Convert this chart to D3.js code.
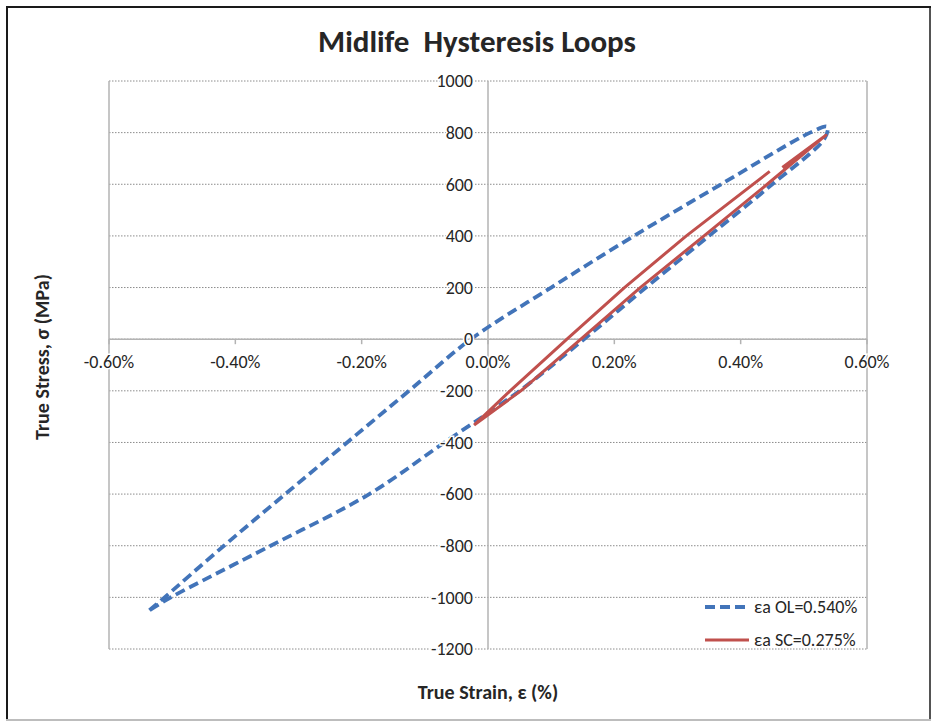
<!DOCTYPE html>
<html>
<head>
<meta charset="utf-8">
<script src="https://cdn.jsdelivr.net/npm/d3@7"></script>
<style>
    body { margin: 0; background: #fff; }
    text { font-family: Carlito, Calibri, Lato, "Open Sans", sans-serif; fill: #262626; }
    .tick-label { font-size: 18px; paint-order: stroke; stroke: #fff; stroke-width: 3px; }
    .grid { stroke: #8c8c8c; stroke-width: 1; stroke-dasharray: 1.5,1.5; }
    .axis-line { stroke: #b3b3b3; stroke-width: 1.5; }
    .axis-title { font-size: 20px; font-weight: bold; }
</style>
</head>
<body>
<svg id="chart"></svg>
<script>
// Tick values
const strainTicks = [-0.6, -0.4, -0.2, 0, 0.2, 0.4, 0.6];
const stressTicks = [-1200, -1000, -800, -600, -400, -200, 0, 200, 400, 600, 800, 1000];

// εa OL=0.540% loop (strain %, stress MPa)
const olStrain = [-0.536, -0.512, -0.418, -0.321, -0.223, -0.125, -0.027, 0.100, 0.231, 0.369, 0.510, 0.537,
    0.533, 0.450, 0.350, 0.250, 0.152, 0.050, -0.069, -0.188, -0.344, -0.502, -0.536];
const olStress = [-1050, -1000, -800, -600, -400, -200, 0, 200, 400, 600, 800, 823,
    778, 600, 400, 200, 0, -200, -400, -600, -800, -1000, -1050];

// εa SC=0.275% loop (null = break in the line)
const scStrain = [-0.022, 0.035, 0.125, 0.216, 0.314, 0.446, null, 0.466, 0.535,
    0.442, 0.342, 0.241, 0.147, 0.052, -0.022];
const scStress = [-333, -200, 0, 200, 400, 650, null, 665, 790,
    600, 400, 200, 0, -200, -333];

const W = 937, H = 722;
const margin = { top: 81, right: 70, bottom: 73, left: 109 };
const width = W - margin.left - margin.right;
const height = H - margin.top - margin.bottom;

const svg = d3.select("#chart").attr("width", W).attr("height", H);

// outer frame
svg.append("line").attr("x1", 7).attr("y1", 7).attr("x2", 7).attr("y2", 720)
    .attr("stroke", "#1a1a1a").attr("stroke-width", 2);
svg.append("line").attr("x1", 6).attr("y1", 7).attr("x2", 931).attr("y2", 7)
    .attr("stroke", "#1a1a1a").attr("stroke-width", 2);
svg.append("line").attr("x1", 930).attr("y1", 7).attr("x2", 930).attr("y2", 720)
    .attr("stroke", "#1a1a1a").attr("stroke-width", 1.5);
svg.append("line").attr("x1", 6).attr("y1", 720).attr("x2", 931).attr("y2", 720)
    .attr("stroke", "#bdbdbd").attr("stroke-width", 2);

const g = svg.append("g").attr("transform", `translate(${margin.left},${margin.top})`);

const x = d3.scaleLinear().domain([-0.6, 0.6]).range([0, width]);
const y = d3.scaleLinear().domain([-1200, 1000]).range([height, 0]);

// horizontal dotted gridlines
g.selectAll(".grid").data(stressTicks).join("line")
    .attr("class", "grid")
    .attr("x1", 0).attr("x2", width)
    .attr("y1", d => y(d)).attr("y2", d => y(d));

// plot side borders
g.append("line").attr("class", "axis-line").attr("x1", 0).attr("x2", 0).attr("y1", 0).attr("y2", height);
g.append("line").attr("class", "axis-line").attr("x1", width).attr("x2", width).attr("y1", 0).attr("y2", height);

// axes crossing at zero
g.append("line").attr("class", "axis-line")
    .attr("x1", x(0)).attr("x2", x(0)).attr("y1", 0).attr("y2", height);
g.append("line").attr("class", "axis-line")
    .attr("x1", 0).attr("x2", width).attr("y1", y(0)).attr("y2", y(0));

g.selectAll(".xtick").data(strainTicks).join("line")
    .attr("class", "axis-line xtick")
    .attr("x1", d => x(d)).attr("x2", d => x(d))
    .attr("y1", y(0)).attr("y2", y(0) + 5);

// series
const smoothLine = d3.line()
    .x(d => x(d[0]))
    .y(d => y(d[1]))
    .curve(d3.curveCatmullRom.alpha(0.5));

// the SC loop is two almost straight branches, keep it unsmoothed
const straightLine = d3.line()
    .defined(d => d[0] !== null)
    .x(d => x(d[0]))
    .y(d => y(d[1]));

g.append("path")
    .datum(d3.zip(olStrain, olStress))
    .attr("fill", "none")
    .attr("stroke", "#4274b9")
    .attr("stroke-width", 3.8)
    .attr("stroke-dasharray", "10,5")
    .attr("d", smoothLine);

g.append("path")
    .datum(d3.zip(scStrain, scStress))
    .attr("fill", "none")
    .attr("stroke", "#c0504d")
    .attr("stroke-width", 3)
    .attr("stroke-linejoin", "round")
    .attr("d", straightLine);

// tick labels (plain hyphen for negatives, as in the original)
g.selectAll(".xlabel").data(strainTicks).join("text")
    .attr("class", "tick-label xlabel")
    .attr("x", d => x(d))
    .attr("y", y(0) + 23)
    .attr("dy", "0.35em")
    .attr("text-anchor", "middle")
    .text(d => d.toFixed(2) + "%");

g.selectAll(".ylabel").data(stressTicks).join("text")
    .attr("class", "tick-label ylabel")
    .attr("x", x(0) - 15)
    .attr("y", d => y(d))
    .attr("dy", "0.35em")
    .attr("text-anchor", "end")
    .text(d => String(d));

// title and axis titles
svg.append("text")
    .attr("x", 477).attr("y", 52)
    .attr("text-anchor", "middle")
    .style("font-size", "31px").style("font-weight", "bold").style("white-space", "pre")
    .attr("fill", "#1a1a1a")
    .text("Midlife  Hysteresis Loops");

svg.append("text")
    .attr("class", "axis-title")
    .attr("x", margin.left + x(0)).attr("y", 699)
    .attr("text-anchor", "middle")
    .text("True Strain, ε (%)");

svg.append("text")
    .attr("class", "axis-title")
    .attr("transform", `translate(42,${margin.top + height / 2 - 8}) rotate(-90)`)
    .attr("dy", "0.35em")
    .attr("text-anchor", "middle")
    .text("True Stress, σ (MPa)");

// legend
const legend = [
    { label: "εa OL=0.540%", color: "#4274b9", dash: "10,5", w: 3.8 },
    { label: "εa SC=0.275%", color: "#c0504d", dash: null, w: 3 }
];
const lg = svg.append("g").attr("transform", "translate(705,607)");
legend.forEach((d, i) => {
    lg.append("line")
        .attr("x1", 0).attr("x2", 44).attr("y1", i * 33).attr("y2", i * 33)
        .attr("stroke", d.color).attr("stroke-width", d.w)
        .attr("stroke-dasharray", d.dash);
    lg.append("text")
        .attr("x", 49).attr("y", i * 33).attr("dy", "0.35em")
        .style("font-size", "18px")
        .text(d.label);
});
</script>
</body>
</html>
